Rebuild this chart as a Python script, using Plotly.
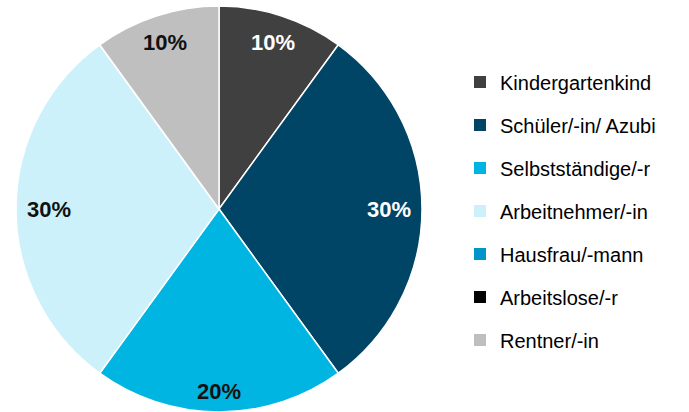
import math
import plotly.graph_objects as go

categories = ["Kindergartenkind", "Schüler/-in/ Azubi", "Selbstständige/-r",
              "Arbeitnehmer/-in", "Hausfrau/-mann", "Arbeitslose/-r", "Rentner/-in"]
values = [10, 30, 20, 30, 0, 0, 10]
colors = ["#404040", "#004466", "#00B5E2", "#CCF1FB", "#0095C8", "#000000", "#BFBFBF"]
label_colors = ["white", "white", "#111111", "#111111", "white", "white", "#111111"]

W, H = 689, 412
cx, cy, R = 219, 203, 203  # pixels, cy from bottom

fig = go.Figure()
fig.add_trace(go.Pie(
    labels=categories, values=values, sort=False, direction="clockwise", rotation=0,
    marker=dict(colors=colors, line=dict(color="white", width=1.5)),
    textinfo="none", hoverinfo="label+percent", showlegend=False,
    domain=dict(x=[(cx - R) / W, (cx + R) / W], y=[(cy - R) / H, (cy + R) / H]),
))

# legend via dummy traces (for spacing)
for cat, col in zip(categories, colors):
    fig.add_trace(go.Scatter(x=[None], y=[None], mode="markers", name=cat,
                             legendgroup=cat,
                             marker=dict(symbol="square", size=10, color=col)))

# percentage labels, placed near outer edge of each slice
total = sum(values)
cum = 0
hw, hh, pad = 23, 11, 10
for v, lc in zip(values, label_colors):
    if v > 0:
        mid = (cum + v / 2) / total
        ang = math.radians(90 - 360 * mid)
        ext = abs(math.cos(ang)) * hw + abs(math.sin(ang)) * hh
        r = R - pad - ext
        px = cx + r * math.cos(ang)
        py = cy + r * math.sin(ang)
        fig.add_annotation(x=px / W, y=py / H, xref="paper", yref="paper",
                           xanchor="center", yanchor="middle",
                           text=f"<b>{round(100 * v / total)}%</b>", showarrow=False,
                           font=dict(size=22, color=lc, family="Liberation Sans, Arial"))
    cum += v

fig.update_layout(
    width=W, height=H, margin=dict(l=0, r=0, t=0, b=0),
    paper_bgcolor="white", plot_bgcolor="white",
    font=dict(family="Liberation Sans, Arial", color="black"),
    xaxis=dict(visible=False), yaxis=dict(visible=False),
    legend=dict(x=460 / W, y=0.488, xanchor="left", yanchor="middle",
                font=dict(size=20, color="black"), tracegroupgap=14,
                itemsizing="constant"),
)
fig.write_html("out.html", config={"displayModeBar": False},
               post_script="document.body.style.margin='0';document.body.style.padding='0';")
